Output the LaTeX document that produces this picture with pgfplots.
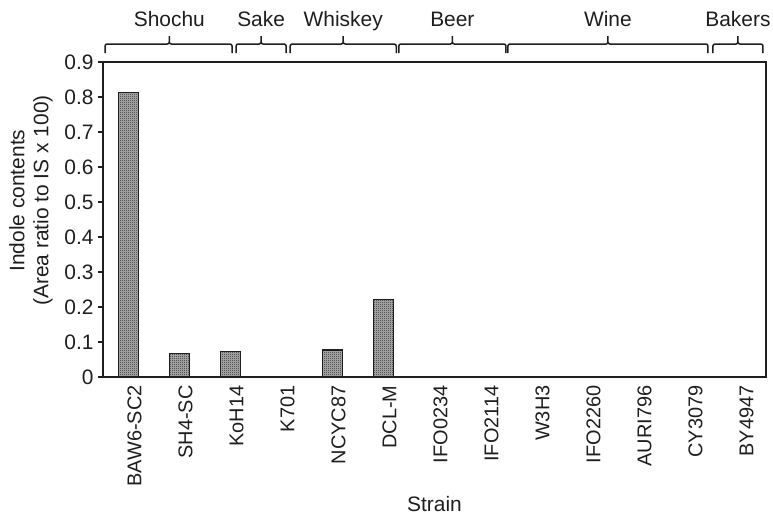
\documentclass[border=0pt]{standalone}
\usepackage{pgfplots}
\pgfplotsset{compat=1.18}
\usepackage{pgfplotstable}
\usepackage{fontspec}
\setmainfont{Liberation Sans}
\usetikzlibrary{patterns}

% fine two-by-two checkerboard used as bar fill
\pgfdeclarepatternformonly{finecheck}{\pgfpointorigin}{\pgfpoint{2bp}{2bp}}{\pgfpoint{2bp}{2bp}}{%
  \pgfpathrectangle{\pgfpointorigin}{\pgfpoint{1bp}{1bp}}%
  \pgfpathrectangle{\pgfpoint{1bp}{1bp}}{\pgfpoint{1bp}{1bp}}%
  \pgfusepath{fill}}

\definecolor{ink}{HTML}{1E1E1E}

\pgfplotstableread{
idx value
0  0.812
1  0.068
2  0.072
3  0
4  0.077
5  0.222
6  0
7  0
8  0
9  0
10 0
11 0
12 0
}\indole

% group bracket above the plot: left, right, middle, label
\newcommand{\grp}[4]{%
  \draw[ink, line width=1.5bp, rounded corners=2bp]
    (axis cs:#1,0.9257) -- (axis cs:#1,0.9514) -- (axis cs:#3,0.9514)
    -- (axis cs:#3,0.9771) -- (axis cs:#3,0.9514) -- (axis cs:#2,0.9514)
    -- (axis cs:#2,0.9257);
  \node[anchor=base, text=ink, inner sep=0pt, font=\fontsize{21}{24}\selectfont] at (axis cs:#3,1.001) {#4};
}

\begin{document}
\begin{tikzpicture}
\begin{axis}[
  scale only axis,
  width=663bp, height=315bp,
  xmin=-0.5, xmax=12.5,
  ymin=0, ymax=0.9,
  clip=false,
  axis line style={ink, line width=1.3bp},
  font=\fontsize{21}{24}\selectfont,
  /pgf/number format/assume math mode=true,
  ytick={0,0.1,...,0.9},
  yticklabels={0,0.1,0.2,0.3,0.4,0.5,0.6,0.7,0.8,0.9},
  xtick={0,...,12},
  xticklabels={BAW6-SC2,SH4-SC,KoH14,K701,NCYC87,DCL-M,IFO0234,IFO2114,W3H3,IFO2260,AURI796,CY3079,BY4947},
  minor xtick={-0.5,0.5,...,12.5},
  tick align=outside,
  xtick pos=bottom, ytick pos=left,
  x tick style={draw=none},
  minor x tick style={ink, line width=1.2bp},
  minor tick length=7bp,
  y tick style={ink, line width=1.2bp},
  major tick length=5bp,
  tick label style={text=ink},
  xticklabel style={rotate=90, anchor=east, yshift=-6bp, font=\fontsize{20}{24}\selectfont},
  yticklabel style={xshift=-1bp, font=\fontsize{21}{24}\selectfont},
  xlabel={Strain},
  xlabel style={at={(axis description cs:0.5,-0.4254)}, anchor=base, text=ink},
  ylabel={Indole contents\\(Area ratio to IS x 100)},
  ylabel style={at={(axis description cs:-0.1086,0.56)}, anchor=center, align=center, text=ink},
  ybar, bar width=20bp,
]
\addplot[draw=ink, line width=1.2bp, fill=black!30,
  postaction={pattern=finecheck, pattern color=black!85}]
  table[x=idx, y=value] {\indole};

\grp{-0.46}{2.03}{0.80}{Shochu}
\grp{2.11}{3.09}{2.60}{Sake}
\grp{3.17}{5.25}{4.21}{Whiskey}
\grp{5.30}{7.40}{6.35}{Beer}
\grp{7.44}{11.36}{9.40}{Wine}
\grp{11.46}{12.44}{11.95}{Bakers}
\end{axis}
\pgfresetboundingbox
\path[use as bounding box] (-103bp,-138bp) rectangle (670bp,377bp);
\end{tikzpicture}
\end{document}
